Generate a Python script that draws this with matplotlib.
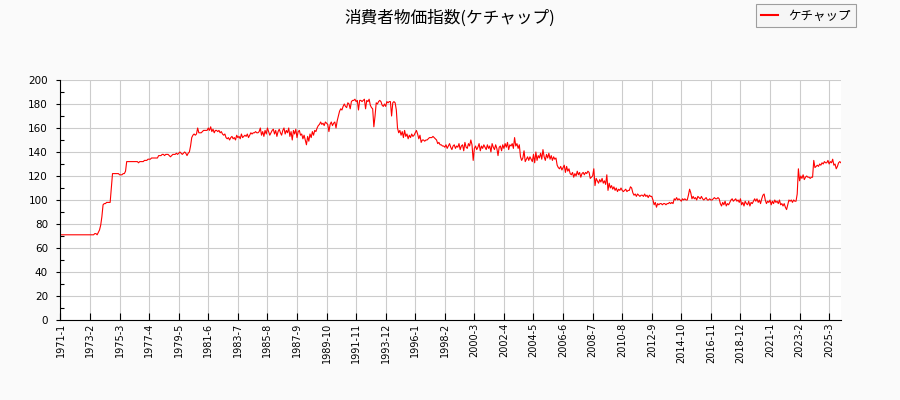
import matplotlib
matplotlib.use("Agg")
import matplotlib.pyplot as plt
from matplotlib.ticker import MultipleLocator

plt.rcParams['font.family'] = ['Noto Sans CJK JP', 'DejaVu Sans']

# monthly index values, 1971-1 onward
values_by_year = [
    [71, 71, 71, 71, 71, 71, 71, 71, 71, 71, 71, 71],               # 1971
    [71, 71, 71, 71, 71, 71, 71, 71, 71, 71, 71, 71],               # 1972
    [71, 71, 71, 71, 71, 72, 72, 71, 73, 75, 79, 86],               # 1973
    [96, 97, 97, 98, 98, 98, 98, 110, 122, 122, 122, 122],          # 1974
    [122, 122, 121, 121, 121, 122, 122, 124, 132, 132, 132, 132],   # 1975
    [132, 132, 132, 132, 132, 132, 131, 132, 132, 132, 132, 133],   # 1976
    [133, 133, 134, 134, 134, 135, 135, 135, 135, 135, 135, 137],   # 1977
    [137, 137, 138, 138, 137, 138, 138, 138, 137, 136, 137, 138],   # 1978
    [138, 138, 139, 138, 139, 140, 139, 138, 139, 140, 139, 137],   # 1979
    [139, 140, 145, 152, 154, 155, 154, 155, 160, 156, 156, 156],   # 1980
    [157, 158, 158, 158, 158, 160, 158, 161, 157, 159, 156, 158],   # 1981
    [158, 157, 158, 156, 157, 155, 154, 155, 152, 151, 152, 150],   # 1982
    [152, 153, 151, 152, 150, 154, 152, 153, 151, 155, 152, 153],   # 1983
    [154, 153, 155, 152, 154, 156, 155, 156, 156, 157, 156, 156],   # 1984
    [157, 160, 154, 157, 153, 158, 155, 160, 157, 154, 156, 158],   # 1985
    [159, 155, 158, 153, 157, 159, 156, 154, 158, 160, 155, 158],   # 1986
    [156, 160, 153, 157, 150, 158, 155, 159, 152, 157, 158, 154],   # 1987
    [155, 151, 154, 150, 146, 153, 149, 155, 152, 157, 154, 158],   # 1988
    [157, 160, 162, 163, 165, 163, 164, 162, 165, 164, 163, 157],   # 1989
    [163, 165, 162, 164, 165, 160, 166, 170, 174, 176, 175, 178],   # 1990
    [180, 178, 177, 181, 180, 176, 182, 183, 183, 184, 182, 183],   # 1991
    [175, 183, 183, 182, 183, 184, 176, 183, 182, 184, 179, 177],   # 1992
    [176, 161, 170, 181, 180, 182, 183, 182, 179, 178, 180, 178],   # 1993
    [182, 181, 182, 182, 170, 181, 182, 181, 175, 160, 156, 158],   # 1994
    [154, 157, 152, 158, 153, 155, 151, 154, 152, 155, 153, 154],   # 1995
    [156, 158, 155, 151, 154, 148, 150, 150, 149, 150, 150, 151],   # 1996
    [152, 152, 152, 153, 152, 151, 150, 147, 148, 146, 146, 145],   # 1997
    [145, 144, 146, 143, 145, 147, 144, 142, 145, 146, 143, 145],   # 1998
    [144, 147, 142, 145, 146, 141, 148, 144, 143, 147, 145, 150],   # 1999
    [146, 133, 143, 145, 142, 144, 147, 141, 145, 143, 146, 144],   # 2000
    [142, 146, 143, 145, 140, 147, 144, 142, 146, 143, 137, 144],   # 2001
    [145, 141, 146, 143, 147, 144, 148, 142, 146, 145, 147, 143],   # 2002
    [152, 145, 147, 143, 146, 136, 133, 135, 141, 132, 134, 136],   # 2003
    [133, 136, 134, 132, 138, 131, 140, 133, 137, 135, 139, 134],   # 2004
    [142, 136, 133, 138, 135, 139, 134, 137, 133, 136, 134, 135],   # 2005
    [129, 127, 126, 128, 125, 127, 129, 123, 128, 124, 126, 122],   # 2006
    [121, 123, 119, 122, 120, 124, 121, 123, 119, 122, 123, 121],   # 2007
    [123, 122, 124, 123, 118, 119, 120, 126, 112, 118, 116, 114],   # 2008
    [117, 115, 118, 114, 116, 113, 121, 108, 114, 110, 112, 109],   # 2009
    [111, 108, 110, 107, 109, 108, 110, 108, 107, 108, 109, 107],   # 2010
    [108, 108, 111, 110, 106, 104, 105, 103, 105, 104, 103, 104],   # 2011
    [104, 103, 105, 103, 104, 102, 104, 103, 103, 100, 96, 98],     # 2012
    [94, 97, 96, 97, 97, 96, 97, 97, 96, 97, 97, 98],               # 2013
    [97, 98, 97, 101, 100, 102, 100, 101, 100, 99, 101, 100],       # 2014
    [101, 100, 100, 104, 109, 106, 101, 103, 101, 102, 100, 103],   # 2015
    [102, 101, 103, 101, 100, 101, 102, 100, 100, 101, 100, 100],   # 2016
    [101, 102, 101, 101, 102, 101, 97, 95, 98, 96, 99, 95],         # 2017
    [97, 96, 98, 100, 101, 99, 100, 101, 99, 100, 98, 101],         # 2018
    [96, 98, 95, 99, 97, 96, 99, 95, 98, 97, 99, 101],              # 2019
    [99, 101, 98, 100, 97, 101, 104, 105, 100, 97, 99, 98],         # 2020
    [100, 96, 99, 97, 100, 98, 99, 97, 100, 96, 97, 95],            # 2021
    [97, 94, 92, 96, 100, 99, 100, 98, 100, 99, 99, 105],           # 2022
    [126, 116, 120, 118, 121, 117, 119, 120, 119, 119, 118, 119],   # 2023
    [119, 133, 127, 128, 129, 128, 130, 129, 131, 130, 132, 131],   # 2024
    [131, 133, 130, 132, 131, 134, 129, 130, 126, 128, 131, 132],   # 2025
    [131],                                                          # 2026
]
start_year = 1971
series_name = "ケチャップ"
title = "消費者物価指数(ケチャップ)"

values = [v for year in values_by_year for v in year]
labels = []
for y, year in enumerate(values_by_year):
    for m in range(len(year)):
        labels.append(f"{start_year + y}-{m + 1}")
x = list(range(len(values)))

fig = plt.figure(figsize=(9, 4), dpi=100, facecolor='#fafafa')
ax = fig.add_axes([0.0672, 0.2, 0.8672, 0.6])
ax.set_facecolor('white')

line, = ax.plot(x, values, color='red', linewidth=0.8, label=series_name)

ax.set_xlim(0, len(values) - 1)
ax.set_ylim(0, 200)
ax.set_xticks(x[::25])
ax.set_xticklabels(labels[::25], rotation=90, family='DejaVu Sans', fontsize=7)
ax.yaxis.set_major_locator(MultipleLocator(20))
ax.yaxis.set_minor_locator(MultipleLocator(10))
for t in ax.get_yticklabels():
    t.set_family('DejaVu Sans')
    t.set_fontsize(7.5)

ax.tick_params(axis='x', direction='in', length=5, pad=2, width=0.8)
ax.tick_params(axis='y', which='major', direction='out', length=3, pad=6, width=0.8)
ax.tick_params(axis='y', which='minor', direction='in', length=3, width=0.8)
ax.grid(True, color='#cccccc', linewidth=0.8)
ax.set_axisbelow(True)
for side in ['top', 'right']:
    ax.spines[side].set_visible(False)

fig.text(0.5, 0.955, title, ha='center', va='center', fontsize=12)
leg = fig.legend(handles=[line], loc='upper right', bbox_to_anchor=(0.951, 0.989),
                 borderaxespad=0, fancybox=False, fontsize=9, handlelength=1.4,
                 edgecolor='#888888', facecolor='#f5f5f5')
leg.get_frame().set_linewidth(0.8)
leg.get_lines()[0].set_linewidth(1.5)

fig.savefig("out.png", dpi=100, facecolor=fig.get_facecolor())
